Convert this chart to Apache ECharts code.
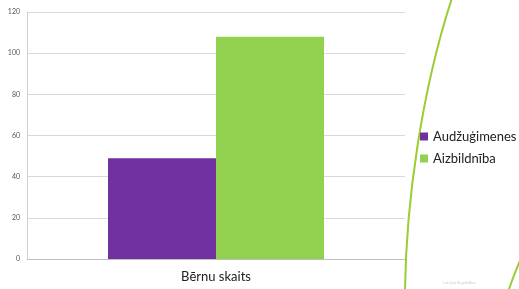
<!DOCTYPE html>
<html>
<head>
<meta charset="utf-8">
<script src="https://cdn.jsdelivr.net/npm/echarts@6/dist/echarts.min.js"></script>
<style>
  html, body { margin: 0; padding: 0; background: #fff; }
  #chart { width: 519px; height: 289px; }
</style>
</head>
<body>
<div id="chart"></div>
<script>
var categories = ["Bērnu skaits"];
var seriesNames = ["Audžuģimenes", "Aizbildnība"];
var audzugimenes = [49];
var aizbildniba = [108];
var colors = ["#7030a0", "#92d050"];

var chart = echarts.init(document.getElementById("chart"));

var option = {
  animation: false,
  grid: { left: 27, right: 114, top: 12, bottom: 30 },
  legend: {
    orient: "vertical",
    left: 415,
    top: 125,
    itemWidth: 8,
    itemHeight: 8,
    itemGap: 9,
    icon: "rect",
    textStyle: { fontFamily: "Lato", fontSize: 13, color: "#222" },
    data: seriesNames
  },
  xAxis: {
    type: "category",
    data: categories,
    axisLine: { lineStyle: { color: "#bfbfbf" } },
    axisTick: { show: false },
    axisLabel: { fontFamily: "Lato", fontSize: 13, color: "#222", margin: 11 }
  },
  yAxis: {
    type: "value",
    min: 0,
    max: 120,
    interval: 20,
    axisLine: { show: true, lineStyle: { color: "#d0d0d0" } },
    axisTick: { show: false },
    splitLine: { lineStyle: { color: "#d9d9d9" } },
    axisLabel: { fontFamily: "Lato", fontSize: 7, color: "#555", margin: 7 }
  },
  series: [
    {
      name: seriesNames[0],
      type: "bar",
      data: audzugimenes,
      barWidth: 108,
      barGap: "0%",
      itemStyle: { color: colors[0] }
    },
    {
      name: seriesNames[1],
      type: "bar",
      data: aizbildniba,
      barWidth: 108,
      barGap: "0%",
      itemStyle: { color: colors[1] }
    }
  ],
  graphic: [
    {
      type: "bezierCurve",
      silent: true,
      shape: { x1: 452, y1: -2, cpx1: 422, cpy1: 90, cpx2: 406, cpy2: 200, x2: 405, y2: 292 },
      style: { stroke: "#9acd32", lineWidth: 2, fill: null }
    },
    {
      type: "bezierCurve",
      silent: true,
      shape: { x1: 521, y1: 258, cpx1: 516, cpy1: 270, cpx2: 512, cpy2: 280, x2: 508, y2: 292 },
      style: { stroke: "#9acd32", lineWidth: 2, fill: null }
    },
    {
      type: "text",
      silent: true,
      left: 443,
      top: 281,
      style: { text: "Latvijas Republikas", fontSize: 4, fill: "#cccccc", fontFamily: "Lato" }
    }
  ]
};

chart.setOption(option);
</script>
</body>
</html>
